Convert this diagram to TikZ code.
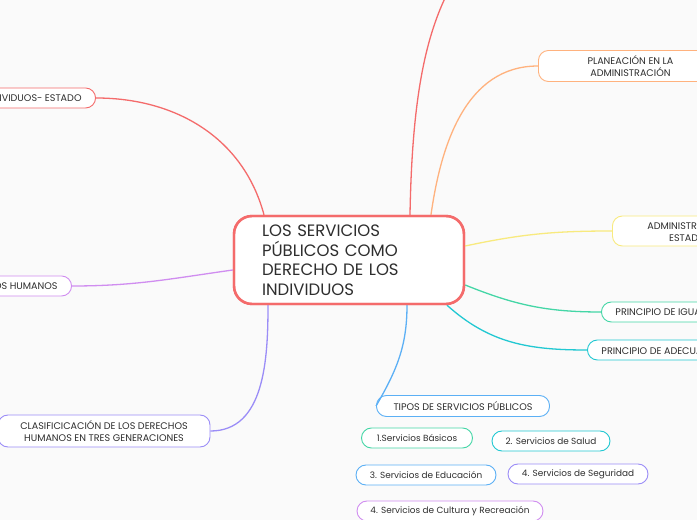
\documentclass[tikz,border=0pt]{standalone}
\usepackage{fontspec}
\setmainfont{Poppins}
\definecolor{mred}{HTML}{F46B6B}
\definecolor{morange}{HTML}{FFB27E}
\definecolor{myellow}{HTML}{F8EA7E}
\definecolor{mgreen}{HTML}{44D6A6}
\definecolor{mcyan}{HTML}{22C8D2}
\definecolor{mblue}{HTML}{5CB0F5}
\definecolor{mviolet}{HTML}{9B8DF7}
\definecolor{mpurple}{HTML}{D08DF0}
\definecolor{mtext}{HTML}{2E2E2E}

\begin{document}
\begin{tikzpicture}[x=1pt, y=1pt,
    box/.style = {draw, rounded corners=10pt, line width=0.9pt, text=mtext,
        font=\fontsize{9.6}{12}\selectfont, align=center, inner xsep=14pt,
        minimum height=20pt, fill=white},
    leaf/.style = {box, font=\fontsize{8.9}{11}\selectfont, inner xsep=10pt},
    branch/.style = {line width=1.3pt}]

        \useasboundingbox (0, 0) rectangle (697, 520);
        \fill[white!98!black] (0, 0) rectangle (697, 520);

        % Central topic.
        \node[draw=mred, line width=2.4pt, rounded corners=18pt, fill=white,
            minimum width=230pt, minimum height=88pt, text width=174pt,
            inner xsep=28pt, align=left, text=mtext,
            font=\fontsize{16.5}{19.5}\selectfont] (main) at (349, 260)
            {LOS SERVICIOS\\P\'UBLICOS COMO\\DERECHO DE LOS\\INDIVIDUOS};

        % Main branches, left side.
        \node[box, draw=mred, anchor=east] (indiv) at (96, 422) {INDIVIDUOS- ESTADO};
        \node[box, draw=mpurple, anchor=east] (humanos) at (72, 234) {DERECHOS HUMANOS};
        \node[box, draw=mviolet, minimum width=212pt, minimum height=32pt] (clasif) at (104, 89)
            {CLASIFICICACI\'ON DE LOS DERECHOS\\HUMANOS EN TRES GENERACIONES};

        % Main branches, right side.
        \node[box, draw=morange, anchor=west, minimum width=184pt, minimum height=31pt] (plan) at (538, 454)
            {PLANEACI\'ON EN LA\\ADMINISTRACI\'ON};
        \node[box, draw=myellow, anchor=west, minimum width=150pt, minimum height=30pt] (admin) at (612, 289)
            {ADMINISTRACI\'ON\\ESTADO};
        \node[box, draw=mgreen, anchor=west] (igual) at (601, 208) {PRINCIPIO DE IGUALDAD};
        \node[box, draw=mcyan, anchor=west] (adecu) at (587, 170) {PRINCIPIO DE ADECUACI\'ON};
        \coordinate (top) at (446, 524);

        % Types of public services.
        \node[box, draw=mblue, minimum width=173pt, minimum height=21pt] (tipos) at (463, 114)
            {TIPOS DE SERVICIOS P\'UBLICOS};
        \node[leaf, draw=mgreen, minimum width=111pt] (basic) at (417, 82) {1.Servicios B\'asicos};
        \node[leaf, draw=mcyan, minimum width=118pt] (salud) at (551, 79) {2. Servicios de Salud};
        \node[leaf, draw=mblue, minimum width=140pt] (educ) at (426, 45) {3. Servicios de Educaci\'on};
        \node[leaf, draw=mviolet, minimum width=140pt] (segur) at (578, 46) {4. Servicios de Seguridad};
        \node[leaf, draw=mpurple, minimum width=186pt] (cultura) at (450, 9)
            {4. Servicios de Cultura y Recreaci\'on};

        % Connectors from the central topic.
        \draw[branch, mred] ([xshift=61pt]main.north) .. controls (412, 420) and (425, 480) .. (top);
        \draw[branch, morange] ([xshift=82pt]main.north) to[out=82, in=180] (plan.west);
        \draw[branch, myellow] ([yshift=14pt]main.east) to[out=12, in=180] (admin.west);
        \draw[branch, mgreen] ([yshift=-25pt]main.east) to[out=-22, in=180] (igual.west);
        \draw[branch, mcyan] ([xshift=98pt]main.south) to[out=-42, in=180] (adecu.west);
        \draw[branch, mblue] ([xshift=58pt]main.south) to[out=-90, in=60] (tipos.west);
        \draw[branch, mviolet] ([xshift=-81pt]main.south) to[out=-90, in=0] (clasif.east);
        \draw[branch, mpurple] ([yshift=-10pt]main.west) to[out=188, in=0] (humanos.east);
        \draw[branch, mred] ([xshift=-85pt]main.north) to[out=105, in=0] (indiv.east);

        % Redraw the central box on top of its connectors.
        \node[draw=mred, line width=2.4pt, rounded corners=18pt,
            minimum width=230pt, minimum height=88pt] at (main) {};
    \end{tikzpicture}
\end{document}
